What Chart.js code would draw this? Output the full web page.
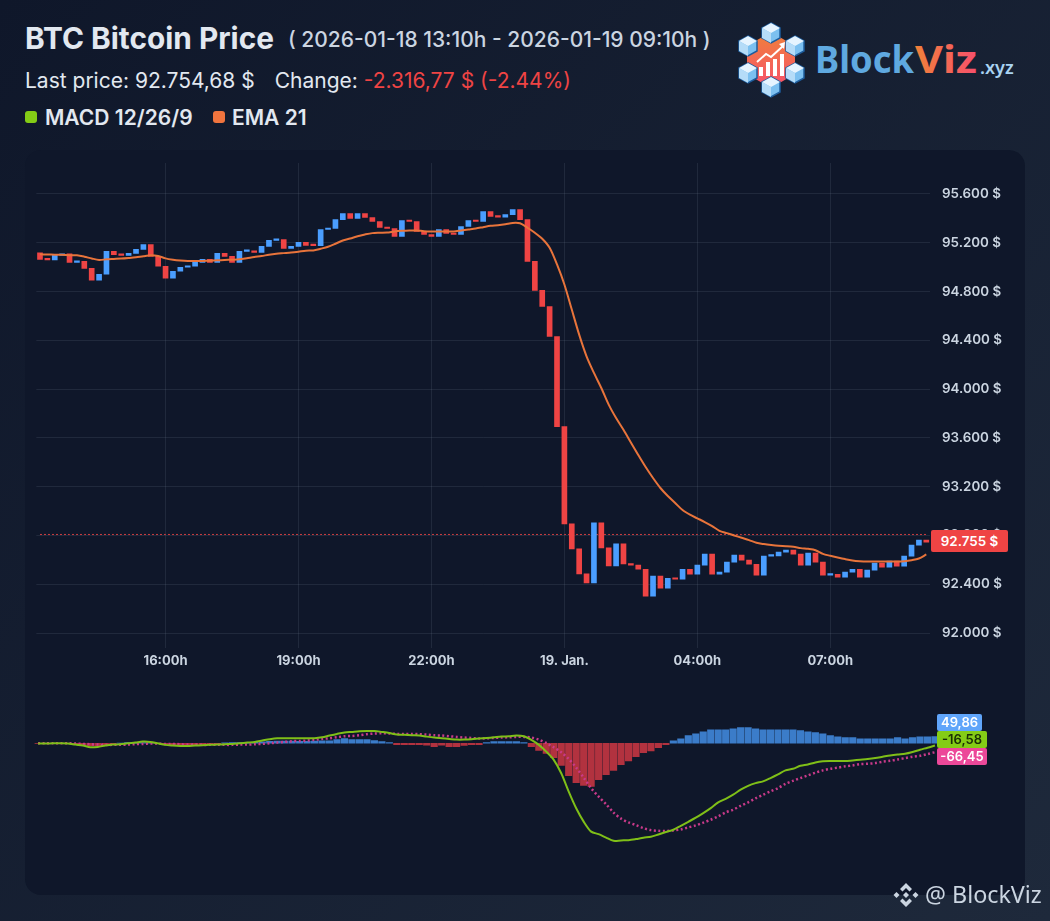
<!DOCTYPE html>
<html lang="en">
<head>
<meta charset="utf-8">
<title>BTC Bitcoin Price</title>
<script src="https://cdn.jsdelivr.net/npm/chart.js@4"></script>
<style>
  html, body { margin: 0; padding: 0; }
  body {
    position: relative; width: 1050px; height: 921px; overflow: hidden;
    background: linear-gradient(135deg, #0f172a 0%, #1e293b 100%);
    font-family: Inter, "Noto Sans", sans-serif; color: #e2e8f0;
  }
  .abs { position: absolute; white-space: nowrap; }
  #card { left: 25px; top: 150px; width: 1000px; height: 745px; background: #0f172a; border-radius: 16px; }
  canvas { position: absolute; display: block; }
  #title { left: 25px; top: 20px; font-size: 29.8px; font-weight: 700; line-height: 36px; }
  #range { left: 288px; top: 26px; font-size: 21px; font-weight: 500; line-height: 28px; color: #cbd5e1; }
  #stats { left: 25px; top: 68px; font-size: 21px; line-height: 26px; color: #e2e8f0; }
  #stats .gap { margin-left: 20px; }
  #stats .down { color: #ef4444; }
  .key { top: 105px; font-size: 21px; font-weight: 600; line-height: 26px; }
  .swatch { top: 111px; width: 12px; height: 12px; border-radius: 3px; }
  .tag { font-weight: 600; text-align: center; border-radius: 2px; }
  #lastTag { left: 931px; top: 530px; width: 77px; height: 22px; line-height: 22px; font-size: 13.4px; background: #ef4444; color: #fff; }
  #histTag { left: 937px; top: 714px; width: 45px; height: 17px; line-height: 17px; font-size: 13px; background: #60a5fa; color: #fff; }
  #macdTag { left: 937px; top: 731px; width: 50px; height: 17px; line-height: 17px; font-size: 13px; background: #84cc16; color: #1a2e05; }
  #signalTag { left: 937px; top: 748px; width: 50px; height: 17px; line-height: 17px; font-size: 13px; background: #ec4899; color: #fff; }
  #mark { left: 925px; top: 879px; font-size: 23.3px; line-height: 30px; color: #cbd5e1; font-family: "Noto Sans", sans-serif; }
</style>
</head>
<body>
<div id="card" class="abs"></div>

<div id="title" class="abs">BTC Bitcoin Price</div>
<div id="range" class="abs">( 2026-01-18 13:10h - 2026-01-19 09:10h )</div>
<div id="stats" class="abs">Last price: 92.754,68 $<span class="gap">Change:</span> <span class="down">-2.316,77 $ (-2.44%)</span></div>
<div class="abs swatch" style="left:25px;background:#84cc16"></div>
<div class="abs key" style="left:45px">MACD 12/26/9</div>
<div class="abs swatch" style="left:213px;background:#f0743e"></div>
<div class="abs key" style="left:232px">EMA 21</div>

<svg class="abs" style="left:730px;top:15px" width="300" height="90" viewBox="730 15 300 90">
  <defs>
    <linearGradient id="hexFill" x1="0" y1="0" x2="0" y2="1"><stop offset="0" stop-color="#f0813a"/><stop offset="1" stop-color="#f7506c"/></linearGradient>
    <linearGradient id="vizFill" x1="0" y1="0" x2="1" y2="0"><stop offset="0" stop-color="#f0813a"/><stop offset="1" stop-color="#f7506c"/></linearGradient>
    <g id="cube">
      <polygon points="0,-10 9,-5 9,5 0,10 -9,5 -9,-5" fill="#7cc0f0" stroke="#1d5c9c" stroke-width="1.5"/>
      <polygon points="0,-10 9,-5 0,0 -9,-5" fill="#e6f4ff"/>
      <polygon points="-9,-5 0,0 0,10 -9,5" fill="#b5dcf8"/>
    </g>
  </defs>
  <polygon points="771,32 795,46 795,74 771,88 747,74 747,46" fill="url(#hexFill)"/>
  <g fill="#fff">
    <rect x="759" y="67" width="4" height="9"/><rect x="766" y="62" width="4" height="14"/>
    <rect x="773" y="59" width="4" height="17"/><rect x="780" y="54" width="4" height="22"/>
  </g>
  <polyline points="757,62 766,54 771,57 783,46" fill="none" stroke="#fff" stroke-width="2"/>
  <polygon points="779,44 785,42 784,49" fill="#fff"/>
  <use href="#cube" x="771" y="33"/><use href="#cube" x="748" y="46"/><use href="#cube" x="795" y="46"/>
  <use href="#cube" x="748" y="73"/><use href="#cube" x="795" y="73"/><use href="#cube" x="771" y="87"/>
  <text x="815" y="73" font-family="'Noto Sans', sans-serif" font-size="38" font-weight="700" fill="#5fa9e0" textLength="99" lengthAdjust="spacingAndGlyphs">Block</text>
  <text x="915" y="73" font-family="'Noto Sans', sans-serif" font-size="38" font-weight="700" fill="url(#vizFill)" textLength="62" lengthAdjust="spacingAndGlyphs">Viz</text>
  <text x="980" y="74" font-family="'Noto Sans', sans-serif" font-size="18" font-weight="600" fill="#a9d3f2">.xyz</text>
</svg>

<canvas id="priceChart" width="1000" height="540" style="left:25px;top:150px"></canvas>
<canvas id="macdChart" width="1000" height="200" style="left:25px;top:690px"></canvas>

<div id="lastTag" class="abs tag">92.755 $</div>
<div id="histTag" class="abs tag">49,86</div>
<div id="macdTag" class="abs tag">-16,58</div>
<div id="signalTag" class="abs tag">-66,45</div>

<svg class="abs" style="left:892px;top:881px" width="28" height="28" viewBox="0 0 28 28" fill="#cbd5e1">
  <polygon points="14,2 20,8 17.5,10.5 14,7 10.5,10.5 8,8"/>
  <polygon points="4.5,11 7.5,14 4.5,17 1.5,14"/><polygon points="23.5,11 26.5,14 23.5,17 20.5,14"/>
  <polygon points="14,11 17,14 14,17 11,14"/>
  <polygon points="14,26 8,20 10.5,17.5 14,21 17.5,17.5 20,20"/>
</svg>
<div id="mark" class="abs">@ BlockViz</div>

<script>
// 10-minute candles, 2026-01-18 13:10h to 2026-01-19 09:10h.
// Each candle opens at the previous close.
const firstOpen = 95118;
const closes = [
  95064, 95060, 95097, 95110, 95039, 95048, 94990, 94893, 94942, 95129,
  95102, 95097, 95113, 95146, 95186, 95088, 95007, 94909, 94966, 94999,
  95007, 95039, 95064, 95039, 95113, 95088, 95039, 95129, 95132, 95121,
  95170, 95219, 95227, 95154, 95170, 95203, 95178, 95176, 95309, 95317,
  95390, 95439, 95399, 95439, 95407, 95374, 95325, 95317, 95252, 95382,
  95374, 95293, 95268, 95252, 95309, 95276, 95268, 95333, 95382, 95374,
  95456, 95415, 95410, 95431, 95472, 95390, 95047, 94809, 94677, 94431,
  93692, 92895, 92690, 92485, 92411, 92904, 92698, 92551, 92731, 92567,
  92556, 92523, 92301, 92466, 92367, 92449, 92441, 92523, 92482, 92556,
  92647, 92482, 92499, 92581, 92638, 92597, 92564, 92474, 92630, 92632,
  92663, 92679, 92647, 92556, 92655, 92581, 92474, 92482, 92458, 92499,
  92523, 92458, 92515, 92573, 92540, 92589, 92548, 92630, 92721, 92762,
  92745,
];
const ema21 = [
  95105, 95104, 95102, 95101, 95098, 95097, 95086, 95071, 95059, 95064,
  95067, 95070, 95075, 95081, 95090, 95097, 95091, 95072, 95061, 95054,
  95050, 95050, 95051, 95053, 95056, 95059, 95061, 95064, 95073, 95083,
  95091, 95102, 95110, 95115, 95120, 95127, 95135, 95137, 95151, 95167,
  95192, 95219, 95235, 95254, 95268, 95279, 95282, 95284, 95293, 95298,
  95301, 95301, 95295, 95293, 95293, 95293, 95293, 95301, 95309, 95317,
  95328, 95339, 95344, 95352, 95363, 95360, 95323, 95282, 95233, 95159,
  95022, 94858, 94652, 94447, 94269, 94133, 94009, 93873, 93763, 93667,
  93563, 93460, 93361, 93271, 93189, 93123, 93066, 93008, 92970, 92940,
  92910, 92877, 92838, 92819, 92800, 92781, 92762, 92740, 92729, 92721,
  92715, 92712, 92707, 92696, 92690, 92679, 92649, 92633, 92619, 92606,
  92595, 92589, 92586, 92586, 92586, 92586, 92586, 92589, 92597, 92611,
  92644,
];
const macdLine = [
  -2, -2, 0, 0, -2, -10, -17, -30, -27, -17,
  -10, -7, 0, 5, 12, 10, 0, -12, -17, -20,
  -20, -17, -15, -12, -10, -7, -5, 0, 5, 10,
  20, 30, 37, 37, 37, 37, 37, 37, 44, 57,
  69, 79, 84, 89, 91, 91, 84, 76, 64, 62,
  59, 57, 49, 42, 37, 32, 27, 27, 30, 35,
  39, 44, 49, 52, 57, 52, 25, -12, -62, -123,
  -222, -358, -481, -580, -654, -673, -698, -722, -719, -717,
  -709, -699, -692, -675, -657, -640, -611, -581, -551, -517,
  -480, -438, -411, -381, -344, -315, -295, -282, -258, -231,
  -201, -189, -167, -157, -142, -134, -132, -132, -132, -127,
  -122, -117, -110, -100, -90, -83, -78, -65, -48, -33,
  -16.58,
];
const signalLine = [
  0, 0, 0, 0, 0, -2, -5, -7, -10, -12,
  -12, -11, -10, -7, -5, -2, -2, -5, -5, -7,
  -10, -10, -12, -12, -12, -12, -12, -10, -10, -7,
  -5, 0, 5, 10, 15, 17, 20, 25, 32, 37,
  44, 52, 54, 59, 67, 72, 74, 72, 69, 69,
  69, 67, 64, 59, 57, 52, 47, 42, 39, 35,
  37, 39, 42, 44, 47, 47, 42, 27, 2, -30,
  -67, -116, -180, -254, -333, -395, -451, -513, -558, -586,
  -606, -628, -643, -648, -650, -645, -638, -623, -608, -588,
  -566, -541, -512, -492, -463, -438, -408, -381, -356, -332,
  -300, -278, -258, -238, -218, -201, -189, -181, -171, -164,
  -154, -152, -147, -137, -130, -120, -110, -100, -93, -80,
  -66.45,
];
const histogram = [
  -2, -2, -1, 0, -3, -8, -12, -18, -20, -14,
  -6, 2, 5, 6, 4, 3, -2, -9, -15, -17,
  -16, -14, -12, -9, -4, 3, 5, 4, 3, 6,
  10, 14, 16, 16, 16, 14, 15, 16, 17, 17,
  27, 35, 27, 27, 27, 20, 12, 5, -10, -10,
  -10, -10, -15, -25, -15, -25, -25, -17, -10, -10,
  4, 12, 12, 12, 12, 5, -25, -54, -76, -106,
  -165, -240, -291, -313, -320, -269, -232, -202, -159, -130,
  -100, -70, -56, -33, -11, 18, 33, 56, 70, 85,
  100, 100, 100, 107, 115, 115, 107, 100, 100, 100,
  100, 100, 93, 85, 78, 70, 56, 48, 41, 41,
  33, 33, 33, 33, 33, 41, 33, 41, 48, 48,
  49.86,
];
const priceTicks = [92000, 92400, 92800, 93200, 93600, 94000, 94400, 94800, 95200, 95600];
const timeTickIndex = [17, 35, 53, 71, 89, 107];
const timeTickLabels = ["16:00h", "19:00h", "22:00h", "19. Jan.", "04:00h", "07:00h"];
const priceLineValue = 92808;

(function () {
  "use strict";

  const BLUE = "#4a9eff";
  const RED = "#ef4444";
  const candleIndex = closes.map((_, i) => i);
  const opens = closes.map((_, i) => (i === 0 ? firstOpen : closes[i - 1]));
  const grid = "rgba(148, 163, 184, 0.13)";

  new Chart(document.getElementById("priceChart"), {
    type: "bar",
    data: {
      labels: candleIndex,
      datasets: [
        {
          type: "line",
          data: closes.map(() => priceLineValue),
          borderColor: "rgba(239, 68, 68, 0.85)",
          borderWidth: 1,
          borderDash: [2, 2],
          pointRadius: 0,
          order: 3,
        },
        {
          data: closes.map((c, i) => [opens[i], c]),
          backgroundColor: closes.map((c, i) => (c >= opens[i] ? BLUE : RED)),
          barThickness: 5,
          minBarLength: 1.5,
          order: 2,
        },
        {
          type: "line",
          data: ema21,
          borderColor: "#e8743b",
          borderWidth: 2,
          tension: 0.3,
          pointRadius: 0,
          order: 1,
        },
      ],
    },
    options: {
      responsive: false,
      animation: false,
      layout: { padding: { left: 11.3, top: 13 } },
      plugins: { legend: { display: false }, tooltip: { enabled: false } },
      scales: {
        x: {
          grid: { color: grid, offset: false, drawTicks: false },
          border: { display: false },
          afterBuildTicks: (scale) => { scale.ticks = timeTickIndex.map((v) => ({ value: v })); },
          afterFit: (scale) => { scale.height = 42; },
          ticks: {
            color: "#cbd5e1", font: { family: "Inter", size: 13, weight: "700" },
            padding: 5, maxRotation: 0, autoSkip: false,
            callback: (value, i) => timeTickLabels[i],
          },
        },
        y: {
          position: "right",
          min: 91877,
          max: 95854,
          grid: { color: grid, drawTicks: false },
          border: { display: false },
          afterBuildTicks: (scale) => { scale.ticks = priceTicks.map((v) => ({ value: v })); },
          afterFit: (scale) => {
            scale.width = 95;
            // the end ticks sit well inside the plot, no room needed for their labels
            scale.paddingTop = 0;
            scale.paddingBottom = 0;
          },
          ticks: {
            color: "#cbd5e1", font: { family: "Inter", size: 13.4, weight: "600" },
            padding: 12,
            callback: (value) => value.toLocaleString("de-DE") + " $",
          },
        },
      },
    },
  });

  new Chart(document.getElementById("macdChart"), {
    type: "bar",
    data: {
      labels: candleIndex,
      datasets: [
        {
          data: histogram,
          backgroundColor: histogram.map((v) => (v >= 0 ? "#3b7cc9" : "#b2323f")),
          barThickness: 6.5,
          order: 3,
        },
        {
          type: "line",
          data: signalLine,
          borderColor: "#c93a8a",
          borderWidth: 2.5,
          borderDash: [2, 2.5],
          tension: 0.3,
          pointRadius: 0,
          order: 2,
        },
        {
          type: "line",
          data: macdLine,
          borderColor: "#7fbf18",
          borderWidth: 2,
          tension: 0.3,
          pointRadius: 0,
          order: 1,
        },
      ],
    },
    options: {
      responsive: false,
      animation: false,
      layout: { padding: { left: 9.3, right: 86.3, top: 10, bottom: 10 } },
      plugins: { legend: { display: false }, tooltip: { enabled: false } },
      scales: {
        x: { display: false },
        y: { display: false, min: -1012, max: 320 },
      },
    },
  });
})();
</script>
</body>
</html>
